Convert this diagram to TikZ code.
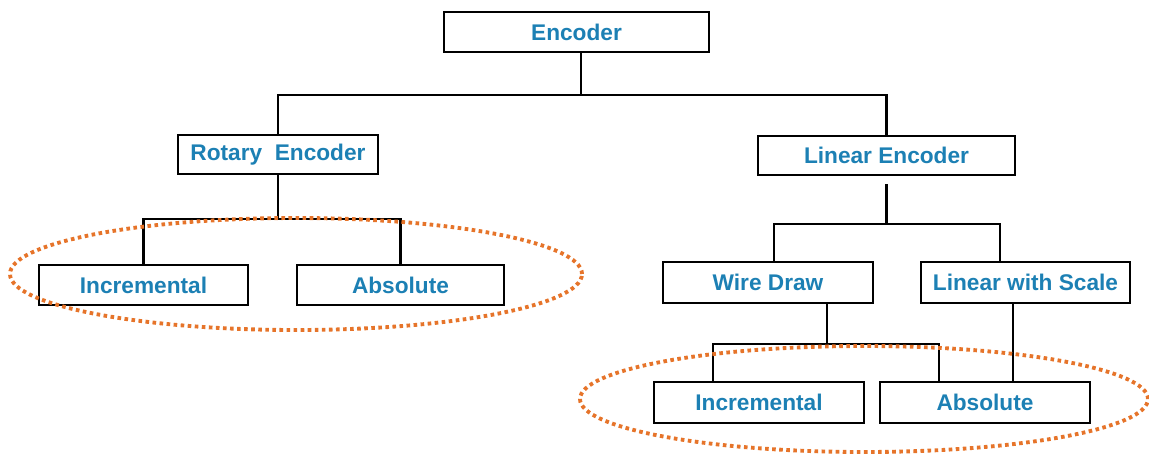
\documentclass[tikz,border=0pt]{standalone}
\usepackage{fontspec}
\setmainfont{Liberation Sans}
\definecolor{encblue}{RGB}{28,128,180}
\definecolor{encorange}{RGB}{230,116,42}
\begin{document}
\begin{tikzpicture}[x=0.75pt,y=-0.75pt,
  box/.style={draw=black,line width=1.6pt,fill=white,inner sep=0pt,
    font=\fontsize{17pt}{20pt}\selectfont\bfseries,text=encblue},
  link/.style={draw=black,line width=1.6pt},
  group/.style={draw=encorange,line width=2.9pt,dash pattern=on 2.7pt off 2.6pt}]
\useasboundingbox (0,0) rectangle (1149,454);
% level 0
\node[box,minimum width=198.75pt,minimum height=30pt] (enc) at (576.5,32) {Encoder};
% level 1
\node[box,minimum width=150pt,minimum height=29.25pt] (rot) at (278,154.5) {Rotary\ \ Encoder};
\node[box,minimum width=192.75pt,minimum height=29.25pt] (lin) at (886.5,155.5) {Linear Encoder};
% level 2 left
\node[box,minimum width=156.75pt,minimum height=30pt] (incL) at (143.5,285) {Incremental};
\node[box,minimum width=155.25pt,minimum height=30pt] (absL) at (400.5,285) {Absolute};
% level 2 right
\node[box,minimum width=157.5pt,minimum height=30.75pt] (wd) at (768,282.5) {Wire Draw};
\node[box,minimum width=156.75pt,minimum height=30.75pt] (lws) at (1025.5,282.5) {Linear with Scale};
% level 3 right
\node[box,minimum width=157.5pt,minimum height=30.75pt] (incR) at (759,402.5) {Incremental};
\node[box,minimum width=157.5pt,minimum height=30.75pt] (absR) at (985,402.5) {Absolute};
% connectors
\draw[link] ([xshift=3.4pt]enc.south) -- ++(0,42) coordinate (j1) -| (rot.north);
\draw[link] (j1) -| (lin.north);
\draw[link] (rot.south) -- ++(0,44) coordinate (j2);
\draw[link] (incL.north) |- (j2) -| (absL.north);
\draw[link] ([yshift=-6pt]lin.south) -- ++(0,40) coordinate (j3);
\draw[link] ([xshift=4.5pt]wd.north) |- (j3) -| ([xshift=-19pt]lws.north);
\draw[link] ([xshift=44pt]wd.south) -- ++(0,40) coordinate (j4);
\draw[link] ([xshift=-34.5pt]incR.north) |- (j4) -| ([xshift=-34.5pt]absR.north);
\draw[link] ([xshift=-9.4pt]lws.south) -- ([xshift=-9.4pt]lws.south |- absR.north);
% dotted groups
\draw[group] (296,274) ellipse [x radius=214.5pt, y radius=42pt];
\draw[group] (864,399) ellipse [x radius=213pt, y radius=39.75pt];
\end{tikzpicture}
\end{document}
